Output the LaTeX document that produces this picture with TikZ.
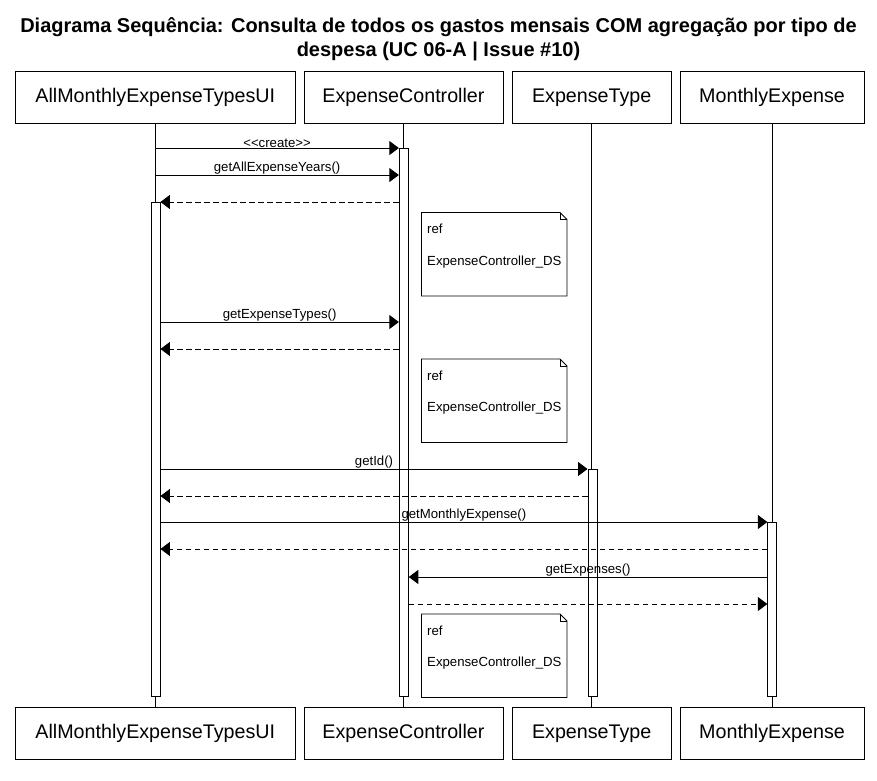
\documentclass[tikz,border=0pt]{standalone}
\usepackage{fontspec}
\setmainfont{Liberation Sans}
\usetikzlibrary{arrows.meta}
\begin{document}
\begin{tikzpicture}[x=1pt,y=-1pt,
  headbox/.style={draw,line width=0.9pt,minimum height=52pt,inner sep=0pt,
    text height=14.2pt,text depth=4.2pt,font=\fontsize{19.7}{22}\selectfont},
  lifeline/.style={line width=0.9pt},
  actbar/.style={draw,fill=white,line width=0.9pt,minimum width=9pt,inner sep=0pt,anchor=north},
  msg/.style={line width=0.9pt,-{Triangle[length=9.5pt,width=14pt]}},
  ret/.style={msg,dash pattern=on 5.5pt off 3.5pt},
  msglabel/.style={font=\fontsize{13.2}{15}\selectfont,inner sep=0pt,anchor=south,yshift=0pt},
  notebox/.style={line width=0.9pt,fill=white},
  notetext/.style={font=\fontsize{13.2}{15}\selectfont,inner sep=0pt,anchor=west},
  titletext/.style={font=\fontsize{20}{24}\selectfont\bfseries,align=center,inner sep=0pt}
]
\useasboundingbox (0,0) rectangle (877,780);

% title
\node[titletext] (title) at (438.5,39) {Diagrama Sequência: Consulta de todos os gastos mensais COM agregação por tipo de\\despesa (UC 06-A | Issue \#10)};

% participant heads (top)
\node[headbox,minimum width=280pt] (uiT) at (155.3,97) {AllMonthlyExpenseTypesUI};
\node[headbox,minimum width=199pt] (ecT) at (403.5,97) {ExpenseController};
\node[headbox,minimum width=159.5pt] (etT) at (591.7,97) {ExpenseType};
\node[headbox,minimum width=184pt] (meT) at (772,97) {MonthlyExpense};
% participant heads (bottom)
\node[headbox,minimum width=280pt] (uiB) at (155.3,733) {AllMonthlyExpenseTypesUI};
\node[headbox,minimum width=199pt] (ecB) at (403.5,733) {ExpenseController};
\node[headbox,minimum width=159.5pt] (etB) at (591.7,733) {ExpenseType};
\node[headbox,minimum width=184pt] (meB) at (772,733) {MonthlyExpense};

% lifelines
\draw[lifeline] (uiT.south) -- (uiB.north);
\draw[lifeline] (ecT.south) -- (ecB.north);
\draw[lifeline] (etT.south) -- (etB.north);
\draw[lifeline] (meT.south) -- (meB.north);

% activation bars
\node[actbar,minimum height=494pt] (uiA) at (155.5,202) {};
\node[actbar,minimum height=548pt] (ecA) at (403.8,148) {};
\node[actbar,minimum height=227pt] (etA) at (592.5,469) {};
\node[actbar,minimum height=174pt] (meA) at (772.3,522) {};

% message end points
\coordinate (m1) at (155.3,148);
\coordinate (m2) at (155.3,175);
\coordinate (m3) at (ecA.west |- 0,202);
\coordinate (m4) at (uiA.east |- 0,322);
\coordinate (m5) at (ecA.west |- 0,349);
\coordinate (m6) at (uiA.east |- 0,469);
\coordinate (m7) at (etA.west |- 0,496);
\coordinate (m8) at (uiA.east |- 0,522);
\coordinate (m9) at (meA.west |- 0,549);
\coordinate (m10) at (meA.west |- 0,577);
\coordinate (m11) at (ecA.east |- 0,604);

% messages
\draw[msg] (m1) -- (m1 -| ecA.west) node[msglabel,midway] {{<}{<}create{>}{>}};
\draw[msg] (m2) -- (m2 -| ecA.west) node[msglabel,midway] {getAllExpenseYears()};
\draw[ret] (m3) -- (m3 -| uiA.east);
\draw[msg] (m4) -- (m4 -| ecA.west) node[msglabel,midway] {getExpenseTypes()};
\draw[ret] (m5) -- (m5 -| uiA.east);
\draw[msg] (m6) -- (m6 -| etA.west) node[msglabel,midway] {getId()};
\draw[ret] (m7) -- (m7 -| uiA.east);
\draw[msg] (m8) -- (m8 -| meA.west) node[msglabel,midway] {getMonthlyExpense()};
\draw[ret] (m9) -- (m9 -| uiA.east);
\draw[msg] (m10) -- (m10 -| ecA.east) node[msglabel,midway] {getExpenses()};
\draw[ret] (m11) -- (m11 -| meA.west);

% ref notes
\foreach \ty/\nm in {212.5/n1,359/n2,614/n3}{
  \draw[notebox] (421.5,\ty) -- (560,\ty) -- (567,\ty+7) -- (567,\ty+83.5) -- (421.5,\ty+83.5) -- cycle;
  \draw[line width=0.6pt] (560,\ty) -- (560,\ty+7) -- (567,\ty+7);
  \node[notetext] (\nm r) at (427,\ty+16.5) {ref};
  \node[notetext] (\nm t) at (427,\ty+49.5) {ExpenseController\_DS};
}
\end{tikzpicture}
\end{document}
